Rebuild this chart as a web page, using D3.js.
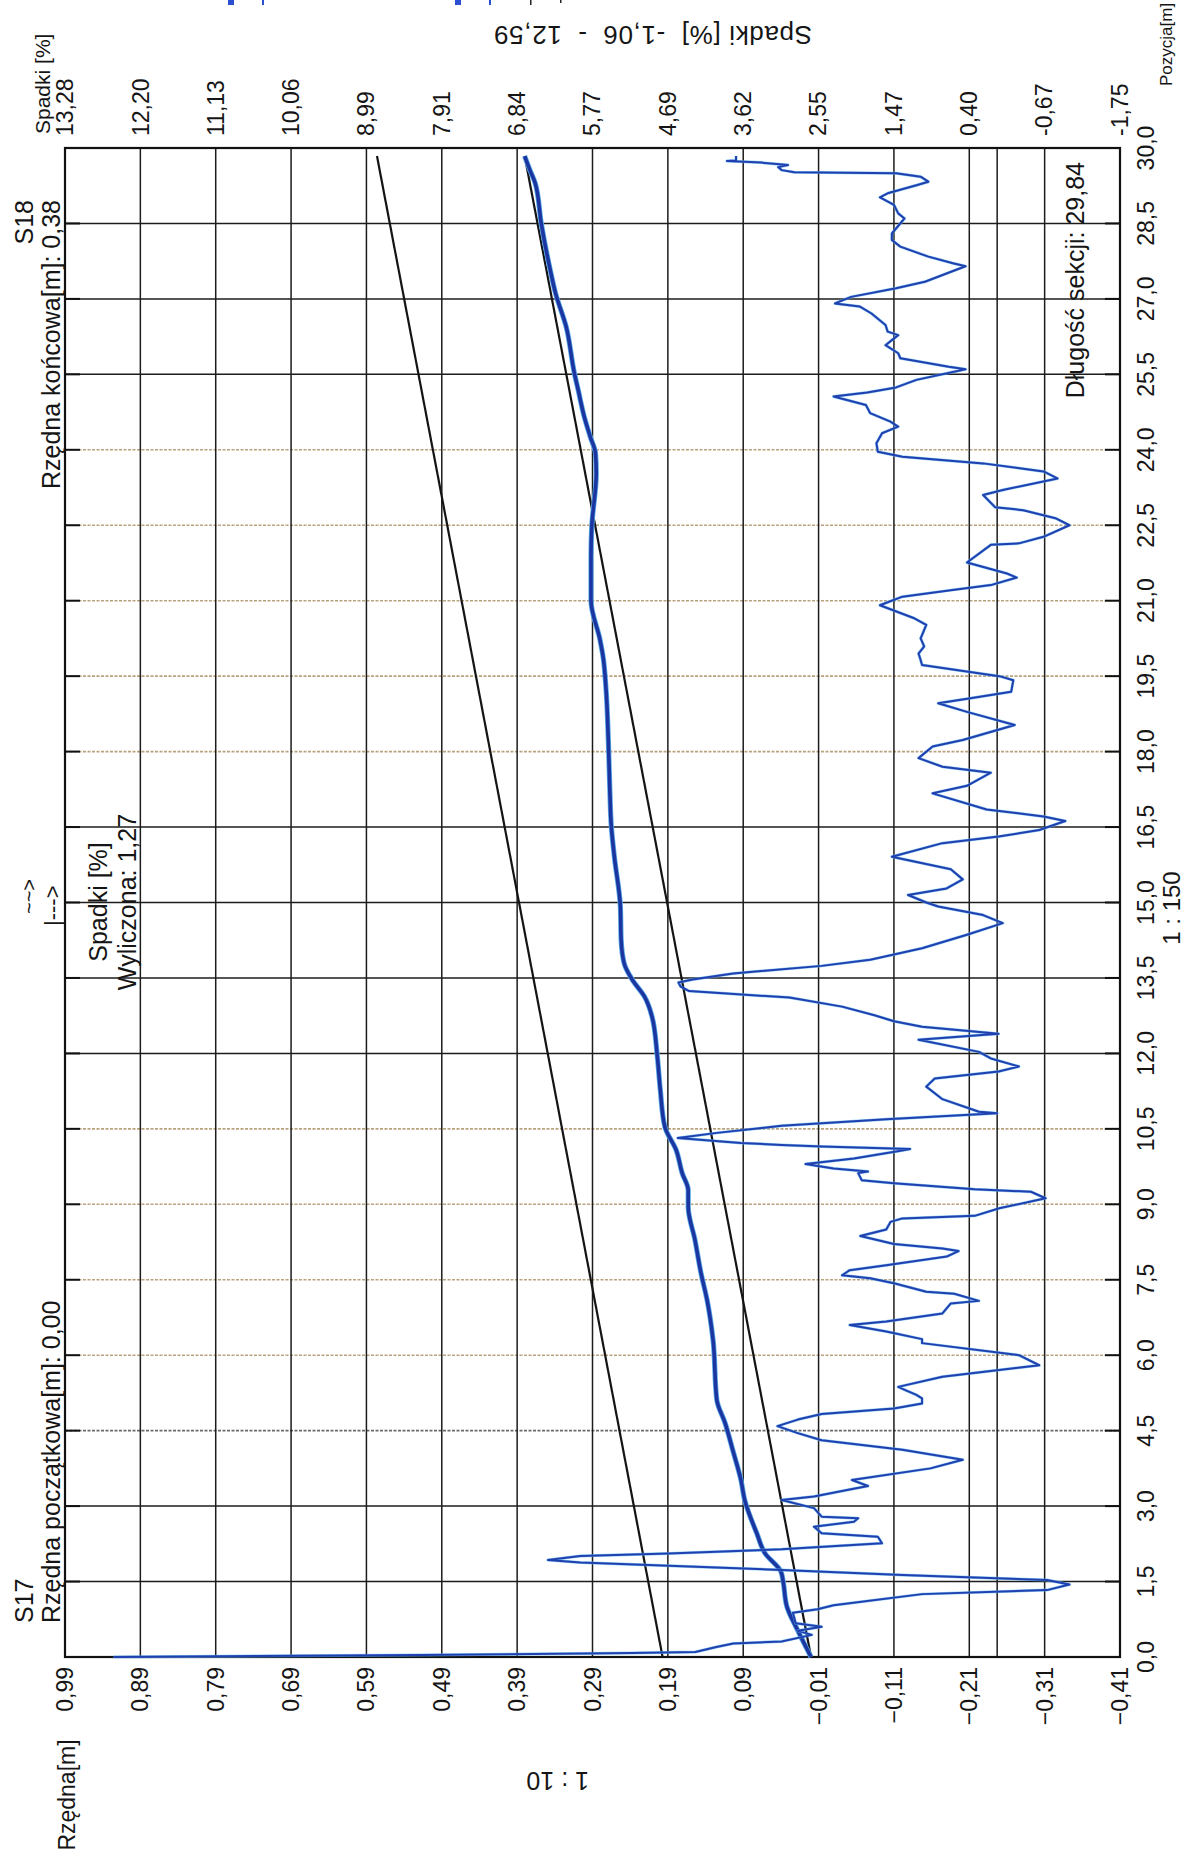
<!DOCTYPE html>
<html><head><meta charset="utf-8">
<script src="https://cdn.jsdelivr.net/npm/d3@7"></script>
<style>
body{margin:0;background:#fff}
svg{display:block;background:#fff}
text{font-family:"Liberation Sans",Arial,sans-serif;fill:#151515}
</style></head>
<body><svg id="c" width="1187" height="1857"></svg>
<script>
// ---------- data ----------
const positionTicks = [0,1.5,3,4.5,6,7.5,9,10.5,12,13.5,15,16.5,18,19.5,21,22.5,24,25.5,27,28.5,30];
const rzednaTicks = [0.99,0.89,0.79,0.69,0.59,0.49,0.39,0.29,0.19,0.09,-0.01,-0.11,-0.21,-0.31,-0.41];
const spadkiTicks = [13.28,12.20,11.13,10.06,8.99,7.91,6.84,5.77,4.69,3.62,2.55,1.47,0.40,-0.67,-1.75];
const spadkiTickLabels = ["13,28","12,20","11,13","10,06","8,99","7,91","6,84","5,77","4,69","3,62","2,55","1,47","0,40","-0,67","-1,75"];

// thin line: spadki [%] along pozycja [m]
const spadkiPos = [0.00,0.04,0.08,0.10,0.20,0.27,0.31,0.44,0.52,0.60,0.67,0.88,0.95,1.03,1.25,1.33,1.44,1.53,1.63,1.73,1.88,1.93,2.01,2.06,2.14,2.26,2.39,2.46,2.59,2.69,2.76,2.79,2.96,3.12,3.19,3.33,3.40,3.52,3.75,3.92,4.12,4.31,4.45,4.59,4.72,4.83,4.94,5.04,5.14,5.21,5.30,5.37,5.57,5.80,6.00,6.24,6.32,6.47,6.60,6.67,6.83,7.03,7.08,7.22,7.26,7.43,7.53,7.59,7.69,7.79,7.96,8.07,8.12,8.21,8.37,8.50,8.65,8.72,8.77,8.92,9.12,9.25,9.30,9.42,9.48,9.62,9.65,9.71,9.80,9.91,10.05,10.10,10.15,10.18,10.22,10.32,10.42,10.56,10.69,10.81,10.84,11.09,11.34,11.50,11.64,11.74,11.90,12.03,12.27,12.39,12.53,12.64,12.76,12.93,13.11,13.24,13.33,13.41,13.47,13.59,13.74,13.86,14.09,14.36,14.59,14.75,14.92,15.00,15.15,15.28,15.46,15.66,15.91,16.18,16.31,16.44,16.62,16.71,16.85,17.17,17.32,17.58,17.70,17.87,18.10,18.23,18.53,18.79,18.96,19.06,19.19,19.42,19.50,19.72,19.82,19.95,20.09,20.25,20.52,20.65,20.91,21.08,21.21,21.31,21.46,21.54,21.76,22.11,22.14,22.27,22.50,22.64,22.80,22.86,23.10,23.20,23.43,23.57,23.73,23.86,23.96,24.13,24.33,24.46,24.56,24.73,24.89,25.06,25.14,25.24,25.39,25.60,25.65,25.82,25.92,26.08,26.18,26.28,26.35,26.48,26.71,26.85,26.91,27.04,27.21,27.34,27.65,27.71,27.84,28.04,28.17,28.30,28.60,28.70,28.87,29.02,29.10,29.26,29.33,29.43,29.50,29.52,29.56,29.62,29.66,29.71,29.74,29.75,29.84];
const spadkiVal = [12.59,8.20,5.20,4.30,4.00,3.76,3.07,2.64,2.84,2.50,2.87,2.91,2.56,2.33,1.07,-0.71,-1.03,-0.71,1.35,3.07,5.94,6.40,5.94,4.68,3.07,1.64,1.70,2.50,2.61,2.04,1.98,2.50,2.61,3.07,2.61,2.10,1.84,2.07,0.95,0.49,1.35,2.50,2.84,3.13,2.84,2.50,1.47,1.07,1.07,1.15,1.30,1.41,0.78,-0.60,-0.31,1.07,1.07,1.58,2.10,1.58,0.78,0.66,0.26,0.61,1.01,1.47,1.81,2.21,2.10,1.58,0.72,0.55,0.78,1.47,1.95,1.58,1.52,1.35,0.32,-0.03,-0.69,-0.48,0.32,1.47,1.93,1.98,1.84,2.33,2.73,2.04,1.44,1.24,2.50,3.07,3.65,4.55,3.99,3.07,1.58,0.00,0.26,0.78,1.01,0.89,-0.02,-0.31,0.09,0.26,1.12,-0.02,1.07,1.47,1.75,2.21,2.96,4.39,4.51,4.54,4.34,3.76,2.50,1.81,1.07,0.43,-0.08,0.20,0.84,1.01,1.27,0.72,0.49,0.66,1.50,0.78,-0.02,-0.60,-0.97,-0.66,0.15,0.92,0.43,0.09,0.78,1.12,0.92,0.49,-0.25,0.43,0.84,0.38,-0.20,-0.23,-0.03,1.07,1.09,1.12,1.04,1.09,1.01,1.18,1.67,1.35,0.66,0.09,-0.28,-0.14,0.43,0.09,-0.31,-0.66,-1.03,-0.83,-0.37,0.03,0.20,-0.08,-0.86,-0.66,0.20,1.35,1.70,1.72,1.64,1.41,1.52,1.81,1.87,2.33,1.85,1.44,1.15,0.45,0.69,1.38,1.41,1.59,1.50,1.41,1.56,1.59,1.79,1.96,2.31,2.08,1.44,1.03,0.45,0.63,0.98,1.38,1.50,1.50,1.32,1.41,1.47,1.67,1.56,1.15,0.98,1.09,1.44,2.89,3.07,3.12,2.98,3.36,3.85,3.72,3.72];

// thick line: rzędna [m] along pozycja [m]
const rzednaPos = [0.00,0.54,1.00,1.50,1.70,2.06,2.46,3.12,3.52,4.12,4.65,5.11,6.30,7.10,7.63,8.29,8.95,9.28,9.62,10.08,10.54,11.27,11.94,12.73,13.13,13.46,13.79,14.26,14.92,15.91,16.51,17.24,18.23,19.23,19.89,20.22,21.01,21.88,22.47,23.53,23.93,24.26,24.66,25.19,25.52,26.45,27.11,27.64,28.50,29.30,29.56,29.84];
const rzednaVal = [0.000,0.018,0.032,0.037,0.040,0.061,0.072,0.088,0.093,0.104,0.114,0.125,0.130,0.138,0.146,0.154,0.163,0.163,0.171,0.179,0.194,0.200,0.204,0.211,0.221,0.237,0.248,0.252,0.253,0.261,0.265,0.267,0.269,0.272,0.276,0.280,0.292,0.292,0.291,0.285,0.286,0.293,0.301,0.309,0.314,0.325,0.339,0.347,0.358,0.366,0.373,0.380];

// straight reference lines (pozycja, rzędna)
const lineRzednaPos = [0, 29.84], lineRzednaVal = [0.00, 0.38];
const lineSpadekPos = [0, 29.84], lineSpadekVal = [0.197, 0.576];

// ---------- layout / style ----------
const svg = d3.select("#c");
const P = {left:65, right:1120, top:148, bottom:1657};
const y  = d3.scaleLinear().domain([0,30]).range([P.bottom,P.top]);
const xR = d3.scaleLinear().domain([0.99,-0.41]).range([P.left,P.right]);
const xS = d3.scaleLinear().domain([13.28,-1.75]).range([P.left,P.right]);
const fadedGrid = [6,7.5,9,10.5,18,19.5,21,22.5,24];
const grayGrid = [4.5];
const comma = f => v => f(v).replace(".", ",");

// partially visible (cut off) legend at the top edge
const g0 = svg.append("g");
g0.append("rect").attr("x",228).attr("y",0).attr("width",6).attr("height",5).attr("fill","#2a4fd0");
g0.append("rect").attr("x",262).attr("y",0).attr("width",2).attr("height",5).attr("fill","#2a4fd0");
g0.append("rect").attr("x",455).attr("y",0).attr("width",6).attr("height",5).attr("fill","#2a4fd0");
g0.append("rect").attr("x",489).attr("y",0).attr("width",2).attr("height",5).attr("fill","#2a4fd0");
g0.append("rect").attr("x",530).attr("y",0).attr("width",1.5).attr("height",5).attr("fill","#222");
g0.append("rect").attr("x",560).attr("y",0).attr("width",1.5).attr("height",3).attr("fill","#222");

// horizontal grid
const grid = svg.append("g");
positionTicks.slice(1,-1).forEach(p=>{
  const faded = fadedGrid.includes(p), gray = grayGrid.includes(p);
  grid.append("line").attr("x1",P.left).attr("x2",P.right).attr("y1",y(p)).attr("y2",y(p))
    .attr("stroke", faded ? "#b9a27e" : gray ? "#6a6a6a" : "#1c1c1c")
    .attr("stroke-width", faded||gray ? 1.6 : 1.5)
    .attr("stroke-dasharray", faded||gray ? "3,1.5" : null);
  grid.append("line").attr("x1",P.left).attr("x2",P.left+15).attr("y1",y(p)).attr("y2",y(p)).attr("stroke","#111").attr("stroke-width",2);
  grid.append("line").attr("x1",P.right-15).attr("x2",P.right).attr("y1",y(p)).attr("y2",y(p)).attr("stroke","#111").attr("stroke-width",2);
});
// vertical grid
rzednaTicks.slice(1,-1).forEach(v=>{
  grid.append("line").attr("x1",xR(v)).attr("x2",xR(v)).attr("y1",P.top).attr("y2",P.bottom)
    .attr("stroke","#1c1c1c").attr("stroke-width",1.5);
});
grid.append("line").attr("x1",xS(0)).attr("x2",xS(0)).attr("y1",P.top).attr("y2",P.bottom)
  .attr("stroke","#1c1c1c").attr("stroke-width",1.5);
// frame
svg.append("rect").attr("x",P.left).attr("y",P.top).attr("width",P.right-P.left).attr("height",P.bottom-P.top)
  .attr("fill","none").attr("stroke","#111").attr("stroke-width",2.2);

// straight lines
const refLine = d3.line().x(d=>xR(d[1])).y(d=>y(d[0]));
[[lineRzednaPos,lineRzednaVal],[lineSpadekPos,lineSpadekVal]].forEach(([ps,vs])=>{
  svg.append("path").attr("d", refLine(ps.map((p,i)=>[p,vs[i]])))
    .attr("fill","none").attr("stroke","#141414").attr("stroke-width",2.2);
});

// thick rzędna line
const rLine = d3.line().x(d=>xR(d[1])).y(d=>y(d[0])).curve(d3.curveMonotoneY);
const rData = rzednaPos.map((p,i)=>[p,rzednaVal[i]]);
svg.append("path").attr("d", rLine(rData))
  .attr("fill","none").attr("stroke","#5aa8e8").attr("stroke-width",5.2).attr("stroke-linejoin","round");
svg.append("path").attr("d", rLine(rData))
  .attr("fill","none").attr("stroke","#1b36a0").attr("stroke-width",3.6).attr("stroke-linejoin","round");

// thin spadki line
const sLine = d3.line().x(d=>xS(d[1])).y(d=>y(d[0]));
const sData = spadkiPos.map((p,i)=>[p,spadkiVal[i]]);
svg.append("path").attr("d", sLine(sData))
  .attr("fill","none").attr("stroke","#62b6f0").attr("stroke-width",3).attr("stroke-linejoin","round").attr("opacity",0.7);
svg.append("path").attr("d", sLine(sData))
  .attr("fill","none").attr("stroke","#2140b0").attr("stroke-width",2).attr("stroke-linejoin","round");

// ---------- text ----------
const T = (x,yy,str,size,anchor,rot,extra) => {
  const t = svg.append("text").attr("transform",`translate(${x},${yy}) rotate(${rot})`)
    .attr("font-size",size).attr("text-anchor",anchor).text(str);
  if (extra) extra(t);
  return t;
};
// rzędna tick labels (bottom)
const fR = comma(d3.format(".2f"));
rzednaTicks.forEach(v=> T(xR(v),1667,fR(v),23,"end",-90,t=>t.attr("dy","0.35em")));
// spadki tick labels (top)
spadkiTicks.forEach((v,i)=> T(xS(v),136,spadkiTickLabels[i],23,"start",-90,t=>t.attr("dy","0.35em")));
// position tick labels (right)
const fP = comma(d3.format(".1f"));
positionTicks.forEach(p=> T(1146,y(p),fP(p),23,"middle",-90,t=>t.attr("dy","0.35em")));

// axis titles
T(67,1795,"Rzędna[m]",23,"middle",-90,t=>t.attr("dy","0.35em"));
T(43,134,"Spadki [%]",21,"start",-90,t=>t.attr("dy","0.35em"));
T(1166,86,"Pozycja[m]",17,"start",-90,t=>t.attr("dy","0.35em"));
T(1180,908,"1 : 150",24,"middle",-90);

// upside-down texts
T(812,26,"Spadki [%]  -1,06  -  12,59",26,"start",180,t=>t.attr("textLength",318).attr("lengthAdjust","spacing").style("white-space","pre"));
T(589,1772,"1 : 10",25,"start",180);

// annotations
T(33,1623,"S17",25,"start",-90);
T(60,1623,"Rzędna początkowa[m]: 0,00",25,"start",-90);
T(33,200,"S18",25,"end",-90);
T(60,200,"Rzędna końcowa[m]: 0,38",25,"end",-90);
T(1084,162,"Długość sekcji: 29,84",25,"end",-90);
T(107,902,"Spadki [%]",25,"middle",-90);
T(136,902,"Wyliczona: 1,27",25,"middle",-90);
T(36,914,"~~>",20,"start",-90);
T(60,926,"|--->",22,"start",-90);
</script>
</body></html>
